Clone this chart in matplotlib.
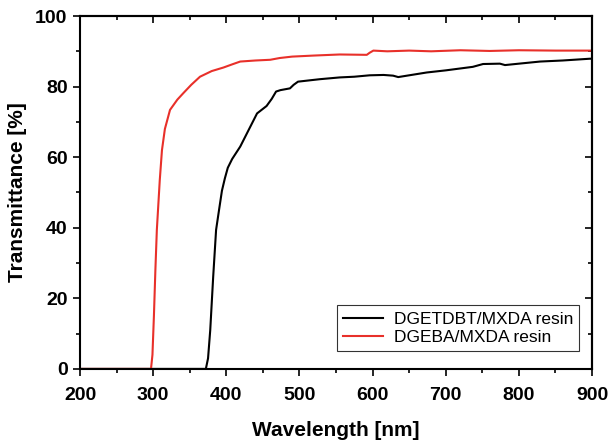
import numpy as np
import matplotlib.pyplot as plt
from matplotlib.ticker import MultipleLocator

plt.rcParams['font.family'] = ['Liberation Sans', 'DejaVu Sans']

# DGETDBT/MXDA resin (black)
wl_dgetdbt = [200, 372, 375, 378, 382, 386, 390, 394, 398, 402, 408, 419, 430,
              442, 455, 462, 468, 474, 487, 492, 498, 515, 528, 555, 575,
              596, 615, 628, 635, 650, 674, 700, 737, 751, 774, 781, 800, 829,
              860, 897, 900]
tr_dgetdbt = [0, 0, 3, 11, 26, 39.4, 45, 50.5, 54, 57, 59.5, 63, 67.5,
              72.4, 74.5, 76.5, 78.6, 79.0, 79.5, 80.5, 81.4, 81.8, 82.1, 82.6, 82.8,
              83.2, 83.3, 83.1, 82.7, 83.2, 84.0, 84.6, 85.6, 86.4, 86.5, 86.1, 86.5, 87.1,
              87.4, 87.9, 87.9]

# DGEBA/MXDA resin (red)
wl_dgeba = [200, 297, 299, 301, 303, 305, 309, 312, 316, 323, 333, 341, 352,
            364, 380, 396, 408, 419, 440, 460, 473, 490, 520, 555, 592, 596, 601,
            620, 650, 680, 720, 760, 800, 850, 900]
tr_dgeba = [0, 0, 4, 15, 28, 39.4, 53.5, 62, 68, 73.4, 76.3, 78.1, 80.5,
            82.8, 84.4, 85.4, 86.3, 87.1, 87.4, 87.6, 88.1, 88.5, 88.8, 89.1, 89.0, 89.6, 90.2,
            90.0, 90.2, 90.0, 90.3, 90.1, 90.3, 90.2, 90.2]

fig = plt.figure(figsize=(6.11, 4.45), dpi=100)
ax = fig.add_axes([0.131, 0.171, 0.838, 0.793])

ax.plot(wl_dgetdbt, tr_dgetdbt, color='black', lw=1.5, label='DGETDBT/MXDA resin')
ax.plot(wl_dgeba, tr_dgeba, color='#e8302a', lw=1.5, label='DGEBA/MXDA resin')

ax.set_xlim(200, 900)
ax.set_ylim(0, 100)
ax.xaxis.set_major_locator(MultipleLocator(100))
ax.xaxis.set_minor_locator(MultipleLocator(50))
ax.yaxis.set_major_locator(MultipleLocator(20))
ax.yaxis.set_minor_locator(MultipleLocator(10))

ax.tick_params(which='both', direction='out', width=1.2, top=False, right=False)
ax.tick_params(which='major', length=5)
ax.tick_params(which='minor', length=3)
ax.tick_params(axis='x', pad=8)
ax.tick_params(axis='y', pad=4)
for lab in ax.get_xticklabels() + ax.get_yticklabels():
    lab.set_fontweight('bold')
    lab.set_fontsize(14)

# inward ticks on top and right
axt = ax.secondary_xaxis('top')
axt.xaxis.set_major_locator(MultipleLocator(100))
axt.xaxis.set_minor_locator(MultipleLocator(50))
axt.tick_params(which='both', direction='in', labeltop=False, width=1.2)
axt.tick_params(which='major', length=5)
axt.tick_params(which='minor', length=3)
axr = ax.secondary_yaxis('right')
axr.yaxis.set_major_locator(MultipleLocator(20))
axr.yaxis.set_minor_locator(MultipleLocator(10))
axr.tick_params(which='both', direction='in', labelright=False, width=1.2)
axr.tick_params(which='major', length=5)
axr.tick_params(which='minor', length=3)

for s in ax.spines.values():
    s.set_linewidth(1.5)
axt.spines['top'].set_linewidth(1.5)
axr.spines['right'].set_linewidth(1.5)

ax.set_xlabel('Wavelength [nm]', fontsize=15, fontweight='bold', labelpad=12)
ax.set_ylabel('Transmittance [%]', fontsize=15, fontweight='bold', labelpad=6)

leg = ax.legend(loc='lower right', bbox_to_anchor=(0.985, 0.035), fontsize=12.5,
                frameon=True, fancybox=False, edgecolor='black', handlelength=2.3,
                borderpad=0.35, labelspacing=0.2, handletextpad=0.6, borderaxespad=0.3)
leg.get_frame().set_linewidth(0.8)

fig.savefig('out.png', dpi=100)
